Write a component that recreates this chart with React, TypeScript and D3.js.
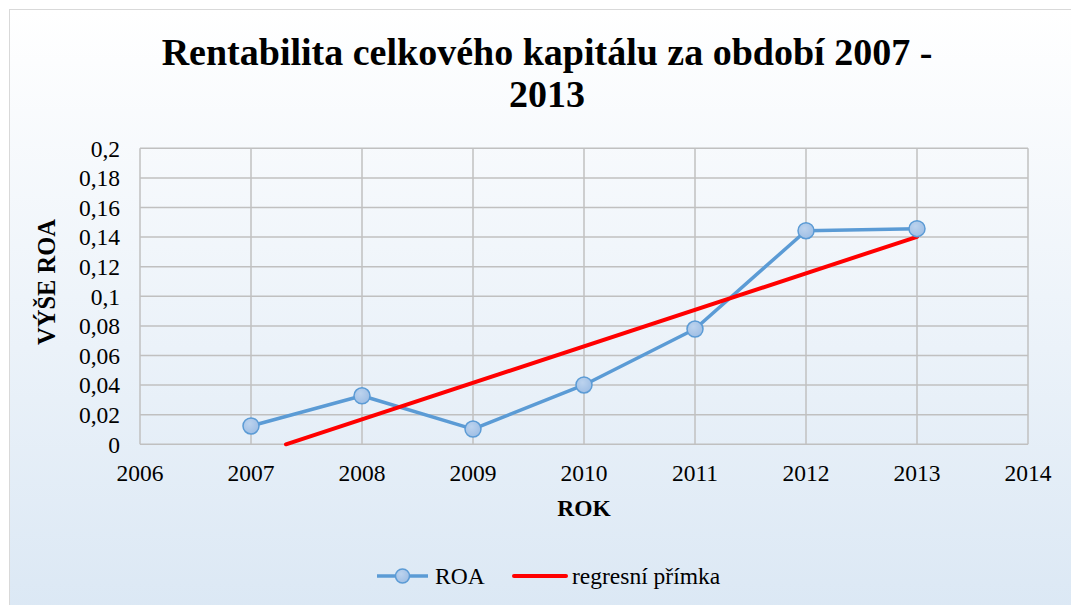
import React from "react";
import * as d3 from "d3";

const years = [2007, 2008, 2009, 2010, 2011, 2012, 2013];
const roa = [0.0124, 0.0328, 0.0103, 0.0401, 0.0779, 0.1443, 0.1457];
const xTicks = [2006, 2007, 2008, 2009, 2010, 2011, 2012, 2013, 2014];
const yTicks = [0, 0.02, 0.04, 0.06, 0.08, 0.1, 0.12, 0.14, 0.16, 0.18, 0.2];
const yTickLabels = ["0", "0,02", "0,04", "0,06", "0,08", "0,1", "0,12", "0,14", "0,16", "0,18", "0,2"];
const titleLines = ["Rentabilita celkového kapitálu za období 2007 -", "2013"];
const seriesNames = ["ROA", "regresní přímka"];

const W = 1071;
const H = 605;
const plot = { left: 140, right: 1028, top: 148.3, bottom: 444.3 };
const FONT = "'Liberation Serif', 'Times New Roman', serif";
const FS = 23.5;

export default function App() {
  const x = d3.scaleLinear().domain([2006, 2014]).range([plot.left, plot.right]);
  const y = d3.scaleLinear().domain([0, 0.2]).range([plot.bottom, plot.top]);

  // least squares regression line
  const mx = d3.mean(years)!;
  const my = d3.mean(roa)!;
  const slope =
    d3.sum(years.map((v, i) => (v - mx) * (roa[i] - my))) /
    d3.sum(years.map((v) => (v - mx) * (v - mx)));
  const icpt = my - slope * mx;
  const x0 = Math.max(years[0], -icpt / slope);
  const x1 = years[years.length - 1];
  const regPts: [number, number][] = [
    [x0, slope * x0 + icpt],
    [x1, slope * x1 + icpt],
  ];

  const line = d3
    .line<[number, number]>()
    .x((d) => x(d[0]))
    .y((d) => y(d[1]));
  const roaPts: [number, number][] = years.map((v, i) => [v, roa[i]]);

  const blue = "#5b9bd5";

  return (
    <svg
      width={W}
      height={H}
      style={{ position: "absolute", left: 0, top: 0 }}
      fontFamily={FONT}
    >
      <defs>
        <linearGradient id="bg" x1="0" y1="0" x2="0" y2="1">
          <stop offset="0" stopColor="#ffffff" />
          <stop offset="1" stopColor="#dae7f4" />
        </linearGradient>
        <radialGradient id="mk" cx="0.4" cy="0.35" r="0.7">
          <stop offset="0" stopColor="#bcd3ee" />
          <stop offset="1" stopColor="#9dbde4" />
        </radialGradient>
      </defs>
      <rect x={0} y={0} width={W} height={H} fill="#ffffff" />
      <rect x={9.5} y={9.5} width={W + 20} height={H + 20} fill="url(#bg)" stroke="#d9d9d9" strokeWidth={1} />

      {/* title */}
      <text x={547} y={65} textAnchor="middle" fontSize={38} fontWeight="bold" fill="#000">
        {titleLines[0]}
      </text>
      <text x={547} y={107} textAnchor="middle" fontSize={38} fontWeight="bold" fill="#000">
        {titleLines[1]}
      </text>

      {/* grid */}
      {yTicks.map((t) => (
        <line key={"gy" + t} x1={plot.left} x2={plot.right} y1={y(t)} y2={y(t)} stroke="#c0c0c0" strokeWidth={1.5} />
      ))}
      {xTicks.map((t) => (
        <line key={"gx" + t} x1={x(t)} x2={x(t)} y1={plot.top} y2={plot.bottom} stroke="#c0c0c0" strokeWidth={1.5} />
      ))}

      {/* y tick labels */}
      {yTicks.map((t, i) => (
        <text key={"yl" + t} x={120} y={y(t)} dy="0.35em" textAnchor="end" fontSize={FS} fill="#000">
          {yTickLabels[i]}
        </text>
      ))}
      {/* x tick labels */}
      {xTicks.map((t) => (
        <text key={"xl" + t} x={x(t)} y={481} textAnchor="middle" fontSize={FS} fill="#000">
          {t}
        </text>
      ))}

      {/* axis titles */}
      <text x={584} y={516} textAnchor="middle" fontSize={FS} fontWeight="bold" fill="#000">
        ROK
      </text>
      <text
        transform={`translate(55,${282}) rotate(-90)`}
        textAnchor="middle"
        fontSize={24.5}
        fontWeight="bold"
        fill="#000"
      >
        VÝŠE ROA
      </text>

      {/* ROA series */}
      <path d={line(roaPts) || ""} fill="none" stroke={blue} strokeWidth={3.5} strokeLinejoin="round" />
      {/* regression */}
      <path d={line(regPts) || ""} fill="none" stroke="#ff0000" strokeWidth={4} strokeLinecap="round" />
      {roaPts.map((p) => (
        <circle key={"m" + p[0]} cx={x(p[0])} cy={y(p[1])} r={8} fill="url(#mk)" stroke={blue} strokeWidth={1.5} />
      ))}

      {/* legend */}
      <line x1={377} x2={428} y1={576} y2={576} stroke={blue} strokeWidth={3.5} />
      <circle cx={402.5} cy={576} r={7} fill="url(#mk)" stroke={blue} strokeWidth={1.5} />
      <text x={435} y={584} fontSize={FS} fill="#000">
        {seriesNames[0]}
      </text>
      <line x1={514} x2={566} y1={576} y2={576} stroke="#ff0000" strokeWidth={4} strokeLinecap="round" />
      <text x={572} y={584} fontSize={FS} fill="#000">
        {seriesNames[1]}
      </text>
    </svg>
  );
}
